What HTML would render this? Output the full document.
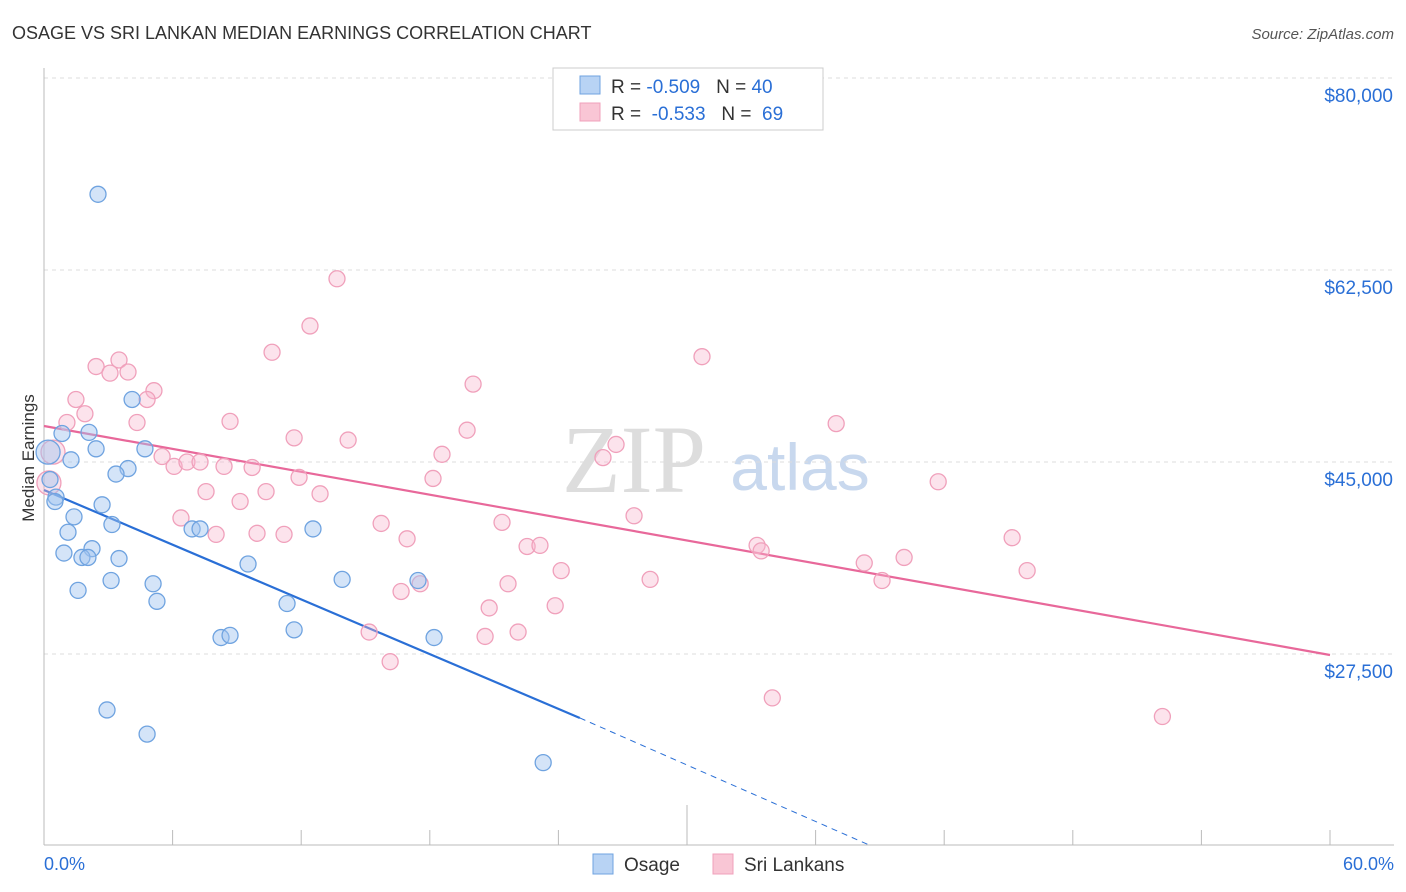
<!DOCTYPE html>
<html><head><meta charset="utf-8"><style>
body{margin:0;background:#fff;font-family:"Liberation Sans",sans-serif}
svg{display:block}
</style></head><body>
<svg id="c" width="1406" height="892">
<text x="12" y="39" font-size="18" fill="#333">OSAGE VS SRI LANKAN MEDIAN EARNINGS CORRELATION CHART</text>
<text x="1394" y="39" font-size="15" fill="#555" font-style="italic" text-anchor="end">Source: ZipAtlas.com</text>
<text x="634" y="492" font-size="96" fill="#ddd" font-family="Liberation Serif" text-anchor="middle">ZIP</text>
<text x="800" y="490" font-size="66" fill="#c8d8ee" text-anchor="middle">atlas</text>
<text transform="translate(34,458) rotate(-90)" font-size="17" fill="#333" text-anchor="middle">Median Earnings</text>
<g id="grid"></g><g id="lines"></g><g id="pts"></g>
<g>
<rect x="553" y="68" width="270" height="62" fill="#fff" stroke="#ccc"/>
<rect x="580" y="76" width="20" height="18" fill="#b8d3f4" stroke="#6fa3e0"/>
<rect x="580" y="103" width="20" height="18" fill="#f9c6d5" stroke="#f0a0bb"/>
<text x="611" y="93" font-size="19" fill="#333">R = <tspan fill="#2a6fd6">-0.509</tspan>&#160;&#160;&#160;N = <tspan fill="#2a6fd6">40</tspan></text>
<text x="611" y="120" font-size="19" fill="#333">R = &#160;<tspan fill="#2a6fd6">-0.533</tspan>&#160;&#160;&#160;N = &#160;<tspan fill="#2a6fd6">69</tspan></text>
</g>
<g>
<rect x="593" y="854" width="20" height="20" fill="#b8d3f4" stroke="#6fa3e0"/>
<text x="624" y="871" font-size="19" fill="#333">Osage</text>
<rect x="713" y="854" width="20" height="20" fill="#f9c6d5" stroke="#f0a0bb"/>
<text x="744" y="871" font-size="19" fill="#333">Sri Lankans</text>
</g>
<text x="44" y="870" font-size="18" fill="#2a6fd6">0.0%</text>
<text x="1394" y="870" font-size="18" fill="#2a6fd6" text-anchor="end">60.0%</text>
</svg>
<script>
const yTicks=[80000,62500,45000,27500];
const yTickLabels=["$80,000","$62,500","$45,000","$27,500"];
const osageX=[2.52,4.11,0.84,2.10,2.43,4.71,1.26,3.92,3.36,0.28,0.56,0.51,2.71,1.40,3.17,1.12,2.24,0.93,1.77,2.05,3.50,9.52,3.13,5.09,13.91,17.45,1.59,5.27,11.34,6.91,7.28,12.55,11.67,8.26,8.68,18.20,2.94,4.81,23.29,0.19];
const osageY=[69400,50700,47600,47700,46200,46200,45200,44400,43900,43400,41800,41400,41100,40000,39300,38600,37100,36700,36300,36300,36200,35700,34200,33900,34300,34200,33300,32300,32100,38900,38900,38900,29700,29000,29200,29000,22400,20200,17600,45900];
const sriX=[13.67,12.41,10.64,30.70,3.50,2.43,3.92,3.08,20.02,5.13,1.49,4.81,1.91,1.07,4.34,8.68,36.96,19.74,11.67,14.19,26.69,18.57,26.08,0.42,5.51,6.07,6.67,7.28,8.40,9.71,18.15,11.90,41.72,0.23,7.56,10.36,12.88,9.15,27.53,6.39,21.37,15.73,8.03,9.94,11.20,16.94,45.17,33.27,33.46,22.54,23.14,40.13,38.27,24.13,45.87,28.28,39.10,21.65,17.55,16.66,20.77,23.85,15.17,20.58,22.12,16.15,33.98,52.18];
const sriY=[61700,57400,55000,54600,54300,53700,53200,53100,52100,51500,50700,50700,49400,48600,48600,48700,48500,47900,47200,47000,46600,45700,45400,45900,45500,44600,45000,45000,44600,44500,43500,43600,43200,43100,42300,42300,42100,41400,40100,39900,39500,39400,38400,38500,38400,38000,38100,37400,36900,37300,37400,36300,35800,35100,35100,34300,34200,33900,33900,33200,31700,31900,29500,29100,29500,26800,23500,21800];
const osageBig=[39];
const sriBig=[23,33];
const osageTrend=[[0,42450],[25.0,21670]];
const osageDash=[[25.0,21670],[38.5,10090]];
const sriTrend=[[0,48280],[60,27410]];
const X=p=>44+p*1286/60;
const Y=v=>462-(v-45000)*192/17500;
const NS="http://www.w3.org/2000/svg";
function mk(t,a,parent){const e=document.createElementNS(NS,t);for(const k in a)e.setAttribute(k,a[k]);document.getElementById(parent).appendChild(e);return e;}
yTicks.forEach((v,i)=>{
 const l=mk('line',{x1:44,x2:1394,y1:Y(v),y2:Y(v),stroke:'#ddd','stroke-dasharray':'4,4'},'grid');
 
 
 const t=mk('text',{x:1393,y:Y(v)+24,'font-size':19,fill:'#2a6fd6','text-anchor':'end'},'grid');
 t.textContent=yTickLabels[i];
 
 
});
const ax=mk('line',{x1:44,x2:1394,y1:845,y2:845,stroke:'#bbb'},'grid');


const ay=mk('line',{x1:44,x2:44,y1:68,y2:845,stroke:'#bbb'},'grid');


for(let p=0;p<=60;p+=6){
 const t=mk('line',{x1:X(p),x2:X(p),y1:(p==30?805:830),y2:845,stroke:'#bbb'},'grid');
 
 
}
function line(pts,col,dash,name){
 const l=mk('line',{x1:X(pts[0][0]),y1:Y(pts[0][1]),x2:X(pts[1][0]),y2:Y(pts[1][1]),stroke:col,'stroke-width':dash?1:2.2},'lines');
 if(dash)l.setAttribute('stroke-dasharray','6,5');
 
 
}
function pts(xs,ys,big,fill,stroke,name){
 xs.forEach((x,i)=>{
  const c=mk('circle',{cx:X(x),cy:Y(ys[i]),r:big.includes(i)?12:8,fill:fill,stroke:stroke,'stroke-width':1.3},'pts');
  
  
 });
}
pts(sriX,sriY,sriBig,'rgba(248,182,204,0.38)','#f0a0bb','sri-lankan-point');
pts(osageX,osageY,osageBig,'rgba(160,196,240,0.45)','#6fa3e0','osage-point');
line(sriTrend,'#e8689a',false,'sri-lankan-trendline');
line(osageTrend,'#2a6fd6',false,'osage-trendline');
line(osageDash,'#2a6fd6',true,'osage-trendline-extension');
</script>
</body></html>
